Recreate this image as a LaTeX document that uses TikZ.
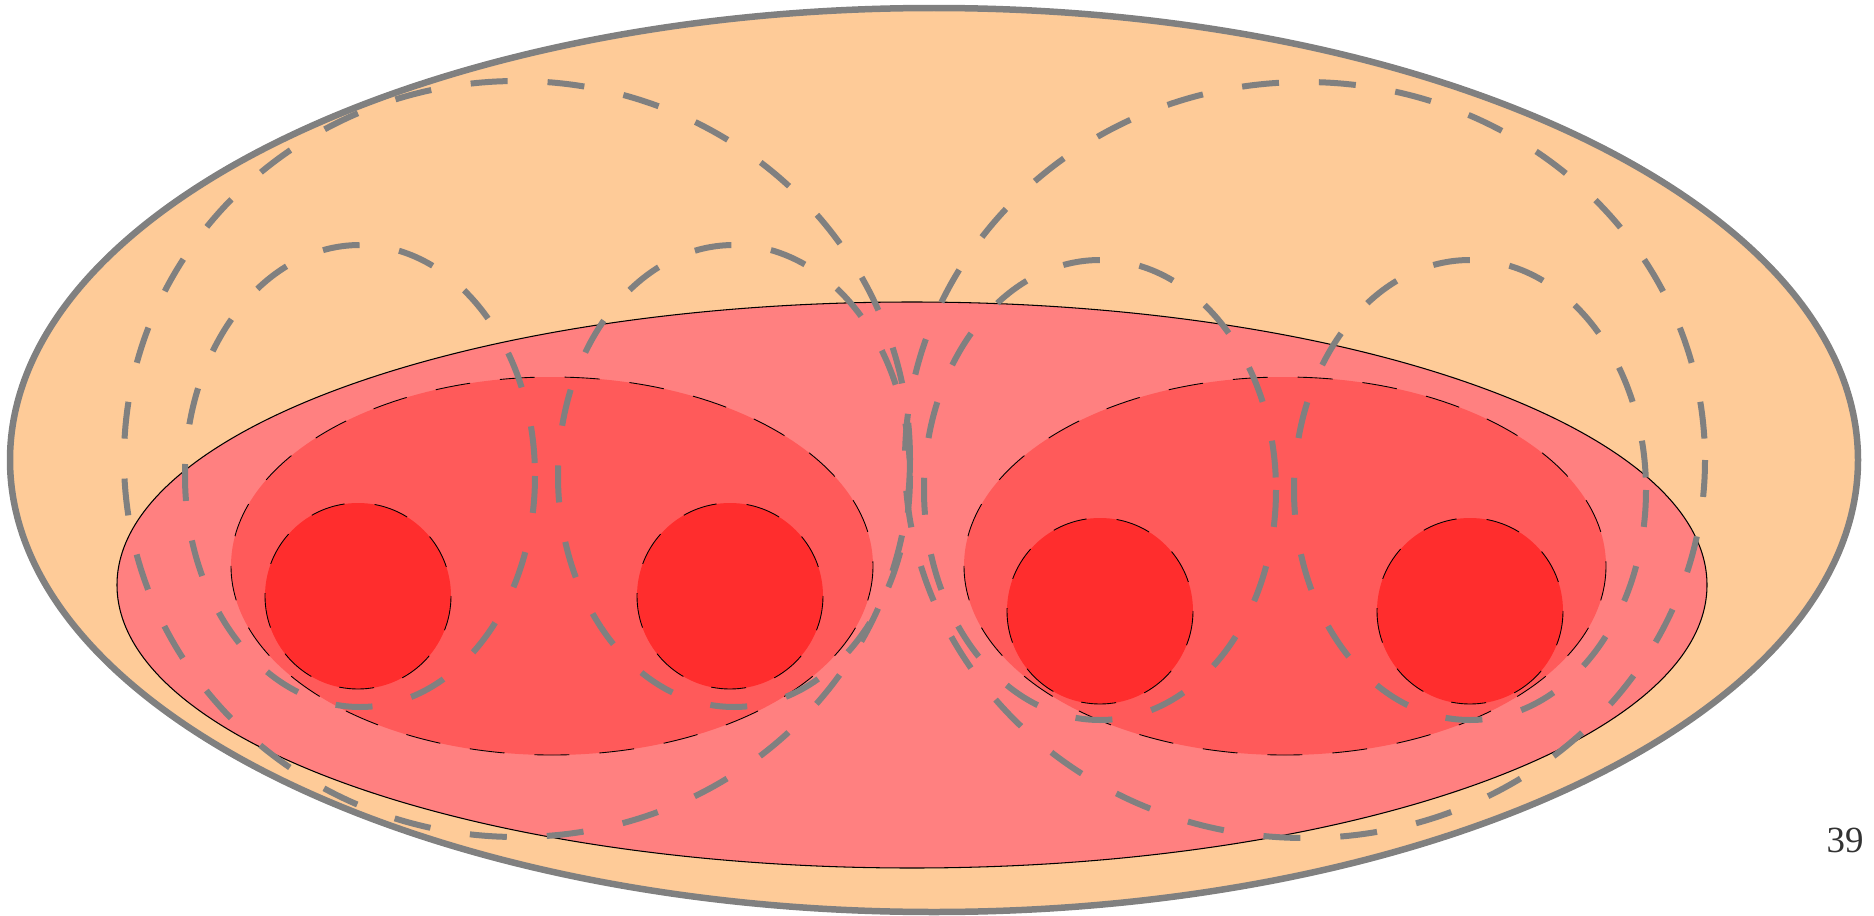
\documentclass[tikz,border=0pt]{standalone}
\usepackage{fontspec}
\usepackage{tikz}
\setmainfont{Liberation Serif}
\definecolor{peach}{RGB}{254,203,152}
\definecolor{pinkband}{RGB}{255,128,128}
\definecolor{midred}{RGB}{255,90,90}
\definecolor{corered}{RGB}{255,45,45}
\definecolor{lineg}{RGB}{128,128,128}

\begin{document}
\begin{tikzpicture}[x=0.02cm, y=-0.02cm,
  shell/.style={fill=peach, draw=lineg, line width=0.13cm},
  band/.style={fill=pinkband, draw=black, line width=0.6pt},
  blob/.style={draw=black, line width=0.5pt, dash pattern=on 0.7cm off 0.6cm},
  field/.style={draw=lineg, line width=0.12cm, dash pattern=on 0.74cm off 0.8cm}]
  \useasboundingbox (0,0) rectangle (1874,916);

  % 外側の楕円
  \draw[shell] (934,460) ellipse [x radius=924, y radius=452];

  % 内側の帯
  \draw[band] (912,585) ellipse [x radius=795, y radius=283];

  % 中くらいの楕円
  \fill[midred] (552,566) ellipse [x radius=321, y radius=189];
  \draw[blob] (552,566) ellipse [x radius=321, y radius=189];
  \fill[midred] (1285,566) ellipse [x radius=321, y radius=189];
  \draw[blob] (1285,566) ellipse [x radius=321, y radius=189];

  % 小さな円
  \fill[corered] (358,596) circle [radius=93];
  \draw[blob] (358,596) circle [radius=93];
  \fill[corered] (730,596) circle [radius=93];
  \draw[blob] (730,596) circle [radius=93];
  \fill[corered] (1100,611) circle [radius=93];
  \draw[blob] (1100,611) circle [radius=93];
  \fill[corered] (1470,611) circle [radius=93];
  \draw[blob] (1470,611) circle [radius=93];

  % 破線の楕円（小）
  \draw[field] (360,476) ellipse [x radius=175, y radius=231];
  \draw[field] (734,476) ellipse [x radius=176, y radius=231];
  \draw[field] (1100,490) ellipse [x radius=176, y radius=230];
  \draw[field] (1470,490) ellipse [x radius=176, y radius=230];

  % 破線の楕円（大）
  \draw[field] (517,459) ellipse [x radius=393, y radius=378];
  \draw[field] (1305,460) ellipse [x radius=400, y radius=378];

  % ページ番号
  \node (pagenum) [text=black!80, font=\fontsize{21}{24}\selectfont] at (1845,840) {39};
\end{tikzpicture}
\end{document}
